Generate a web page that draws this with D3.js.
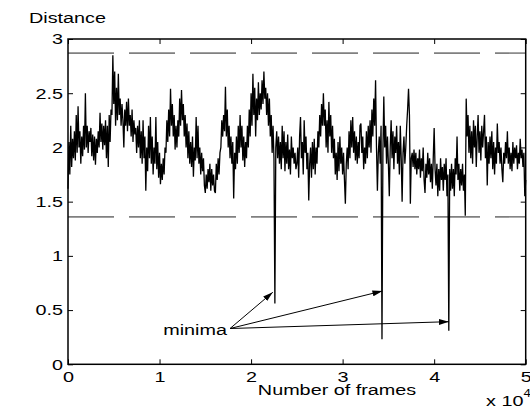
<!DOCTYPE html>
<html>
<head>
<meta charset="utf-8">
<script src="https://cdn.jsdelivr.net/npm/d3@7"></script>
<style>
  body { margin: 0; background: #fff; }
  text { font-family: "Liberation Sans", Arial, Helvetica, sans-serif; }
</style>
</head>
<body>
<svg id="svgContainer"></svg>
<script>
// Distance per sample, one sample every 100 frames (0 .. 50000)
const distance = [
  1.62, 2.05, 1.75, 2.2, 1.82, 2.08, 1.9, 2.15, 1.88, 2.3,
  1.95, 2.38, 2.0, 2.15, 1.85, 2.1, 1.92, 2.2, 1.98, 2.5,
  2.0, 2.2, 1.95, 2.15, 2.05, 2.18, 1.92, 2.12, 1.88, 2.1,
  1.84, 2.08, 1.95, 2.15, 2.0, 2.32, 2.05, 2.22, 1.98, 2.2,
  2.02, 2.25, 1.9, 2.2, 1.82, 2.3, 2.05, 2.35, 2.3, 2.85,
  2.4, 2.7, 2.2, 2.55, 2.25, 2.68, 2.3, 2.45, 2.2, 2.4,
  2.25, 2.0, 2.35, 2.2, 2.42, 2.15, 2.45, 2.2, 2.3, 2.1,
  2.35, 2.05, 2.25, 2.12, 2.18, 1.95, 2.2, 2.0, 2.25, 1.9,
  2.15, 1.85, 2.25, 1.9, 2.1, 1.6, 2.0, 1.78, 2.2, 1.9,
  2.28, 1.85, 2.1, 1.75, 2.0, 1.85, 2.28, 1.8, 2.05, 1.72,
  1.95, 1.66, 1.85, 1.7, 1.9, 1.75, 2.0, 1.95, 2.25, 2.05,
  2.35, 2.1, 2.54, 2.2, 2.4, 2.1, 2.3, 1.98, 2.2, 2.0,
  2.25, 2.1, 2.45, 2.2, 2.53, 2.25, 2.4, 2.1, 2.3, 2.0,
  2.22, 1.9, 2.15, 1.85, 2.05, 1.82, 2.1, 1.73, 2.0, 1.88,
  2.28, 1.9, 2.2, 1.85, 2.0, 1.75, 1.95, 1.78, 1.9, 1.65,
  1.58, 1.75, 1.62, 1.8, 1.68, 1.85, 1.6, 1.8, 1.65, 1.75,
  1.6, 1.58, 1.85, 1.7, 1.9, 1.75, 1.95, 2.0, 2.25, 2.1,
  2.3, 2.15, 2.56, 2.1, 2.35, 2.0, 2.2, 1.9, 2.1, 1.85,
  2.05, 1.53, 1.95, 1.8, 2.1, 1.85, 2.2, 1.95, 2.3, 2.0,
  2.2, 1.88, 2.1, 1.82, 2.05, 1.9, 2.2, 2.0, 2.35, 2.1,
  2.5, 2.2, 2.68, 2.3, 2.55, 2.1, 2.45, 2.25, 2.6, 2.3,
  2.5, 2.35, 2.62, 2.4, 2.7, 2.45, 2.55, 2.3, 2.5, 2.2,
  2.45, 2.1, 2.3, 1.95, 2.2, 1.9, 0.56, 2.0, 2.15, 1.9,
  2.1, 1.85, 2.05, 1.8, 2.2, 1.9, 2.15, 1.78, 2.05, 1.85,
  2.12, 1.8, 1.98, 1.75, 2.1, 1.9, 2.0, 1.85, 1.95, 1.8,
  1.85, 2.0, 1.72, 2.1, 2.28, 1.9, 2.05, 1.75, 2.25, 1.95,
  2.1, 1.8, 1.95, 1.51, 1.85, 2.0, 1.72, 2.05, 1.8, 2.08,
  1.75, 2.0, 1.85, 2.15, 2.0, 2.3, 2.1, 2.4, 2.2, 2.5,
  2.2, 2.35, 2.0, 2.25, 1.95, 2.42, 2.1, 2.3, 1.95, 2.2,
  1.9, 2.08, 1.75, 1.95, 1.7, 2.05, 1.78, 2.1, 1.85, 2.0,
  1.75, 1.95, 1.7, 1.48, 1.85, 2.0, 1.8, 2.15, 1.9, 2.25,
  2.0, 2.28, 1.95, 2.15, 1.88, 2.1, 1.85, 2.05, 1.9, 2.2,
  2.22, 1.95, 2.1, 1.8, 2.0, 1.85, 2.15, 1.9, 2.2, 2.0,
  2.25, 1.95, 2.35, 2.1, 2.45, 2.2, 2.62, 2.0, 1.6, 1.95,
  2.1, 1.85, 2.2, 0.23, 1.95, 2.47, 2.0, 2.2, 1.85, 2.1,
  1.85, 1.55, 2.0, 2.25, 1.9, 2.15, 1.8, 2.1, 1.95, 2.2,
  1.85, 2.05, 1.75, 2.2, 1.9, 1.5, 1.95, 2.1, 1.85, 2.0,
  2.2, 2.35, 2.54, 2.3, 1.48, 1.9, 1.95, 1.82, 1.98, 1.8,
  1.95, 1.75, 1.9, 1.8, 1.98, 1.72, 1.9, 1.78, 2.0, 1.7,
  1.58, 1.85, 1.72, 1.95, 1.75, 1.9, 1.68, 1.85, 1.62, 1.9,
  2.18, 1.8, 1.65, 1.85, 1.55, 1.8, 1.6, 1.9, 1.7, 1.82,
  1.6, 1.85, 1.7, 1.9, 1.55, 1.75, 0.31, 1.8, 1.6, 1.85,
  1.62, 1.8, 1.55, 1.9, 1.75, 2.1, 1.7, 1.85, 1.6, 1.8,
  1.65, 1.85, 1.6, 1.75, 1.37, 2.45, 2.1, 2.3, 1.95, 2.2,
  1.9, 2.15, 1.85, 2.25, 2.0, 2.2, 1.82, 2.1, 2.3, 1.95,
  2.15, 1.88, 2.2, 2.0, 2.15, 2.3, 1.9, 2.1, 1.65, 2.05,
  1.85, 2.1, 1.9, 2.15, 1.8, 2.05, 1.75, 2.0, 1.85, 2.22,
  1.95, 2.05, 1.85, 2.0, 1.8, 1.68, 1.95, 1.85, 2.05, 1.9,
  2.15, 1.85, 2.0, 1.8, 1.95, 1.78, 2.05, 1.85, 2.0, 1.9,
  2.02, 1.8, 1.95, 1.85, 2.08, 1.9, 1.98, 1.82, 1.95, 1.55,
  1.7
];
const frameStep = 100;

// Tick values (x axis is in units of 10^4 frames)
const xTicks = [0, 1, 2, 3, 4, 5];
const yTicks = [0, 0.5, 1, 1.5, 2, 2.5, 3];

// Dashed threshold levels
const thresholds = [2.87, 1.36];

// "minima" annotation: where the arrows start and where they point
const minimaLabel = { frame: 10400, value: 0.27, text: "minima" };
const arrowStart = [17700, 0.33];
const arrowTips = [[22370, 0.664], [34350, 0.676], [41600, 0.393]];

const svgWidth = 530;
const svgHeight = 409;
const fontSize = 15;
const stretch = 1.32; // the text in the picture is wider than normal

const svg = d3.select("#svgContainer")
  .attr("width", svgWidth)
  .attr("height", svgHeight);

const x = d3.scaleLinear().domain([0, 50000]).range([68, 525.7]);
const y = d3.scaleLinear().domain([0, 3]).range([364.3, 39]);

// arrow head
svg.append("defs")
  .append("marker")
  .attr("id", "head")
  .attr("markerUnits", "userSpaceOnUse")
  .attr("viewBox", "0 0 10 6")
  .attr("refX", 10)
  .attr("refY", 3)
  .attr("markerWidth", 10)
  .attr("markerHeight", 6)
  .attr("orient", "auto")
  .append("path")
  .attr("d", "M0,0 L10,3 L0,6 Z")
  .attr("fill", "black");

// dashed lines
svg.selectAll(".threshold")
  .data(thresholds)
  .enter()
  .append("line")
  .attr("class", "threshold")
  .attr("x1", x(0))
  .attr("x2", x(50000))
  .attr("y1", d => y(d))
  .attr("y2", d => y(d))
  .attr("stroke", "#808080")
  .attr("stroke-width", 1.6)
  .attr("stroke-dasharray", "46 15");

// the distance curve
const line = d3.line()
  .x((d, i) => x(i * frameStep))
  .y(d => y(d));

svg.append("path")
  .datum(distance)
  .attr("d", line)
  .attr("fill", "none")
  .attr("stroke", "black")
  .attr("stroke-width", 1.3);

// axes, ticks pointing inward like matlab
const fmtX = d => d3.format("d")(d / 10000);

const xAxis = svg.append("g")
  .attr("transform", `translate(0, ${y(0)})`)
  .call(d3.axisBottom(x).tickValues(xTicks.map(d => d * 10000)).tickFormat(fmtX)
    .tickSizeInner(-5).tickSizeOuter(0).tickPadding(7));

const yAxis = svg.append("g")
  .attr("transform", `translate(${x(0)}, 0)`)
  .call(d3.axisLeft(y).tickValues(yTicks).tickFormat(d3.format("~g"))
    .tickSizeInner(-5).tickSizeOuter(0).tickPadding(3.8));

svg.append("g")
  .attr("transform", `translate(0, ${y(3)})`)
  .call(d3.axisTop(x).tickValues(xTicks.map(d => d * 10000)).tickFormat("")
    .tickSizeInner(-5).tickSizeOuter(0));

svg.append("g")
  .attr("transform", `translate(${x(50000)}, 0)`)
  .call(d3.axisRight(y).tickValues(yTicks).tickFormat("")
    .tickSizeInner(-5).tickSizeOuter(0));

svg.selectAll(".domain").remove();
svg.selectAll(".tick line").attr("stroke", "black");

[xAxis, yAxis].forEach(g => g.selectAll("text")
  .attr("font-size", fontSize)
  .attr("fill", "black")
  .attr("font-family", '"Liberation Sans", Arial, sans-serif')
  .attr("transform", `scale(${stretch},1)`));

// box
svg.append("rect")
  .attr("x", x(0))
  .attr("y", y(3))
  .attr("width", x(50000) - x(0))
  .attr("height", y(0) - y(3))
  .attr("fill", "none")
  .attr("stroke", "black")
  .attr("stroke-width", 1.5);

// arrows to the minima
svg.selectAll(".arrow")
  .data(arrowTips)
  .enter()
  .append("line")
  .attr("class", "arrow")
  .attr("x1", x(arrowStart[0]))
  .attr("y1", y(arrowStart[1]))
  .attr("x2", d => x(d[0]))
  .attr("y2", d => y(d[1]))
  .attr("stroke", "black")
  .attr("stroke-width", 1)
  .attr("marker-end", "url(#head)");

// texts
function stretchedText(px, py, str, anchor) {
  return svg.append("text")
    .attr("transform", `translate(${px}, ${py}) scale(${stretch},1)`)
    .attr("text-anchor", anchor || "start")
    .attr("font-size", fontSize)
    .attr("fill", "black")
    .text(str);
}

stretchedText(x(minimaLabel.frame), y(minimaLabel.value), minimaLabel.text);
stretchedText(29, 23, "Distance");
stretchedText(337, 395, "Number of frames", "middle");

const expo = stretchedText(486, 406, "x 10");
expo.append("tspan")
  .attr("dy", -9)
  .attr("font-size", 10)
  .text("4");
</script>
</body>
</html>
